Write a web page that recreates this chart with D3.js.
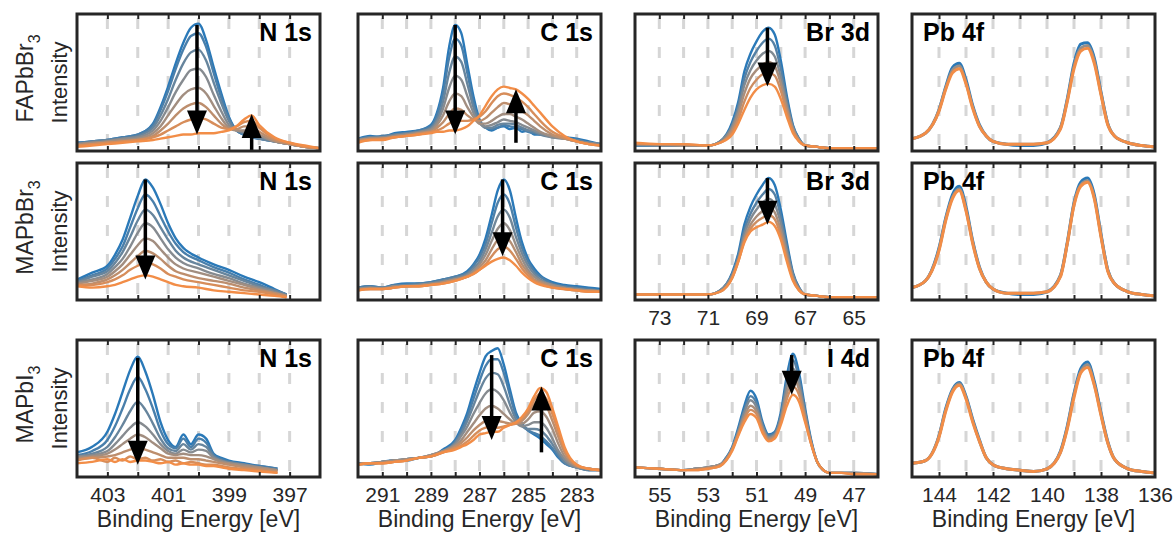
<!DOCTYPE html>
<html>
<head>
<meta charset="utf-8">
<script src="https://cdn.jsdelivr.net/npm/d3@7"></script>
<style>
body { margin: 0; background: #fff; }
svg text { font-family: "Liberation Sans", Arial, sans-serif; }
</style>
</head>
<body>
<div id="chart"></div>
<script>
// values; intensity in % of panel height,
// scans ordered first (blue) to last (orange)

// x ranges and labelled ticks, binding energy in eV
var domainN1s = [404, 396];
var domainC1s = [292, 282];
var domainBr3d = [74, 64];
var domainI4d = [56, 46];
var domainPb4f = [145, 136];

var ticksN1s = [403, 401, 399, 397];
var ticksC1s = [291, 289, 287, 285, 283];
var ticksBr3d = [73, 71, 69, 67, 65];
var ticksI4d = [55, 53, 51, 49, 47];
var ticksPb4f = [144, 142, 140, 138, 136];

var compounds = ["FAPbBr", "MAPbBr", "MAPbI"];
var coreLevels = [
    ["N 1s", "C 1s", "Br 3d", "Pb 4f"],
    ["N 1s", "C 1s", "Br 3d", "Pb 4f"],
    ["N 1s", "C 1s", "I 4d", "Pb 4f"]
];

// ---- FAPbBr3 ----
var energyN1sFA = [404, 403.5, 403, 402.5, 402, 401.5, 401.25, 401, 400.75, 400.5, 400.25, 400, 399.75, 399.5, 399.25, 399, 398.75, 398.5, 398.25, 398, 397.5, 397, 396.5, 396];
var scansN1sFA = [
    [6, 7, 8, 10, 12, 20, 32, 47, 64, 79, 90, 93, 81, 61, 42, 25, 15, 12, 10, 9, 7, 5, 3, 2],
    [6, 7, 8, 10, 12, 19, 30, 44, 60, 74, 84, 86, 76, 57, 39, 24, 15, 12, 10, 9, 7, 5, 3, 2],
    [5, 7, 8, 9, 11, 17, 26, 38, 52, 64, 72, 74, 66, 50, 35, 22, 15, 13, 11, 9, 7, 5, 3, 2],
    [5, 6, 7, 9, 10, 15, 22, 32, 43, 52, 59, 60, 54, 41, 29, 19, 15, 14, 13, 11, 7, 5, 3, 2],
    [5, 6, 7, 8, 9, 13, 18, 26, 34, 41, 45, 46, 42, 33, 24, 17, 15, 15, 14, 12, 7, 5, 3, 2],
    [4, 5, 6, 7, 8, 11, 15, 20, 26, 31, 34, 35, 32, 26, 20, 16, 16, 18, 18, 14, 8, 5, 3, 2],
    [4, 5, 6, 7, 8, 10, 12, 15, 18, 21, 23, 24, 23, 20, 17, 16, 18, 21, 22, 17, 9, 6, 3, 2],
    [3, 4, 5, 6, 7, 8, 9, 10, 11, 12, 12, 13, 13, 13, 14, 15, 18, 23, 26, 19, 10, 6, 4, 2]
];
var arrowsN1sFA = [[400.05, 92, 12], [398.25, 0, 27]];

var energyC1sFA = [292, 291.5, 291, 290.5, 290, 289.5, 289, 288.75, 288.5, 288.25, 288, 287.75, 287.5, 287.25, 287, 286.75, 286.5, 286.25, 286, 285.75, 285.5, 285.25, 285, 284.75, 284.5, 284, 283.5, 283, 282.5, 282];
var scansC1sFA = [
    [9, 11, 10, 13, 14, 15, 19, 28, 46, 76, 92, 86, 63, 40, 23, 17, 15, 17, 18, 16, 17, 14, 15, 12, 12, 11, 10, 9, 7, 5],
    [9, 10, 11, 12, 13, 15, 18, 26, 42, 68, 82, 77, 57, 36, 22, 17, 16, 17, 19, 18, 17, 16, 14, 13, 12, 11, 10, 8, 6, 5],
    [8, 10, 10, 12, 13, 14, 17, 23, 36, 57, 69, 65, 49, 32, 21, 17, 17, 19, 20, 20, 19, 17, 15, 14, 12, 10, 9, 8, 6, 5],
    [8, 9, 10, 11, 12, 14, 16, 21, 31, 46, 55, 52, 40, 28, 20, 18, 19, 21, 23, 22, 21, 19, 17, 15, 13, 10, 9, 7, 6, 5],
    [8, 9, 9, 11, 12, 13, 15, 19, 26, 36, 42, 40, 32, 25, 20, 20, 22, 25, 27, 27, 25, 23, 20, 17, 14, 11, 9, 7, 5, 4],
    [7, 9, 9, 10, 11, 13, 14, 17, 21, 27, 31, 30, 26, 23, 22, 24, 28, 32, 35, 34, 32, 29, 26, 22, 18, 12, 9, 7, 5, 4],
    [7, 8, 9, 10, 11, 12, 14, 15, 17, 20, 22, 22, 22, 23, 25, 29, 35, 40, 42, 41, 39, 36, 32, 27, 22, 14, 10, 7, 5, 4],
    [6, 8, 8, 10, 11, 12, 13, 14, 14, 15, 15, 16, 18, 22, 26, 33, 40, 45, 47, 46, 45, 42, 38, 33, 28, 18, 11, 7, 5, 4]
];
var arrowsC1sFA = [[288.0, 92, 12], [285.5, 6, 45]];

var energyBr3d = [74, 73, 72, 71, 70.5, 70, 69.75, 69.5, 69.25, 69, 68.75, 68.5, 68.25, 68, 67.75, 67.5, 67.25, 67, 66.5, 66, 65, 64];
var scansBr3dFA = [
    [4, 4, 4, 4, 7, 21, 36, 58, 71, 80, 87, 90, 85, 66, 40, 19, 9, 4, 3, 2, 2, 2],
    [4, 4, 4, 4, 7, 19, 33, 53, 65, 73, 79, 82, 77, 60, 37, 18, 9, 4, 3, 2, 2, 2],
    [5, 4, 4, 4, 7, 18, 30, 48, 59, 66, 71, 73, 69, 54, 34, 17, 8, 4, 3, 2, 2, 2],
    [5, 5, 4, 4, 6, 16, 27, 42, 53, 59, 63, 65, 62, 49, 31, 16, 8, 4, 3, 2, 2, 2],
    [5, 5, 5, 4, 6, 14, 23, 36, 46, 52, 56, 57, 55, 44, 28, 15, 7, 4, 3, 2, 2, 2],
    [6, 5, 5, 4, 6, 12, 20, 30, 39, 45, 48, 49, 47, 38, 25, 13, 7, 4, 3, 2, 2, 2]
];
var arrowsBr3dFA = [[68.55, 90, 47]];

var energyPb4f = [145, 144.5, 144, 143.75, 143.5, 143.25, 143, 142.75, 142.5, 142.25, 142, 141.5, 141, 140.5, 140, 139.5, 139.25, 139, 138.75, 138.5, 138.25, 138, 137.75, 137.5, 137, 136.5, 136];
var scansPb4fFA = [
    [9, 13, 30, 47, 61, 64, 52, 33, 19, 11, 7, 5, 4, 4, 6, 17, 38, 64, 78, 79, 68, 43, 20, 11, 6, 4, 3],
    [9, 13, 30, 46, 59, 62, 50, 32, 18, 11, 7, 5, 5, 5, 6, 17, 37, 62, 75, 77, 66, 42, 20, 11, 6, 4, 3],
    [9, 13, 29, 45, 57, 60, 49, 31, 18, 11, 7, 5, 5, 5, 6, 16, 36, 60, 73, 75, 64, 41, 19, 11, 6, 4, 3]
];

// ---- MAPbBr3 ----
var energyN1sMA = [404, 403.5, 403, 402.75, 402.5, 402.25, 402, 401.75, 401.5, 401.25, 401, 400.75, 400.5, 400, 399.5, 399, 398.5, 398, 397.5, 397.1];
var scansN1sMA = [
    [15, 20, 25, 33, 44, 60, 76, 88, 82, 70, 56, 45, 38, 31, 26, 22, 17, 13, 8, 4],
    [14, 18, 23, 30, 39, 53, 67, 77, 72, 61, 50, 41, 35, 29, 24, 20, 15, 11, 7, 4],
    [13, 17, 21, 27, 35, 46, 58, 66, 62, 53, 44, 36, 31, 26, 22, 18, 14, 10, 7, 4],
    [13, 15, 19, 24, 30, 39, 49, 56, 53, 45, 37, 31, 27, 23, 19, 16, 12, 9, 6, 3],
    [12, 14, 17, 21, 26, 33, 40, 45, 43, 37, 31, 26, 23, 20, 17, 14, 11, 8, 5, 3],
    [11, 12, 15, 18, 22, 27, 32, 36, 34, 30, 25, 21, 19, 16, 14, 12, 9, 7, 5, 3],
    [11, 11, 13, 15, 18, 22, 25, 27, 26, 23, 19, 17, 15, 13, 11, 9, 7, 6, 4, 2],
    [10, 9, 10, 11, 13, 15, 17, 18, 17, 15, 13, 11, 10, 9, 7, 6, 5, 4, 3, 2]
];
var arrowsN1sMA = [[401.75, 88, 15]];

var energyC1sMA = [292, 291.5, 291, 290.5, 290, 289.5, 289, 288.5, 288, 287.5, 287.25, 287, 286.75, 286.5, 286.25, 286, 285.75, 285.5, 285.25, 285, 284.75, 284.5, 284, 283.5, 283, 282.5, 282];
var scansC1sMA = [
    [9, 10, 9, 11, 12, 12, 13, 15, 17, 21, 26, 33, 45, 62, 80, 88, 80, 60, 42, 30, 23, 18, 13, 11, 10, 9, 8],
    [9, 10, 9, 11, 11, 12, 13, 15, 17, 20, 25, 31, 41, 56, 71, 77, 70, 53, 38, 28, 21, 17, 12, 10, 9, 8, 7],
    [8, 9, 9, 10, 11, 11, 12, 14, 16, 19, 23, 28, 37, 49, 61, 66, 60, 46, 34, 25, 19, 15, 11, 9, 8, 7, 7],
    [8, 9, 8, 10, 10, 11, 12, 13, 15, 18, 21, 26, 33, 43, 52, 56, 51, 40, 30, 22, 17, 14, 11, 9, 8, 7, 6],
    [8, 8, 8, 9, 10, 10, 11, 13, 15, 17, 20, 24, 29, 37, 44, 47, 43, 35, 26, 20, 15, 13, 10, 8, 7, 7, 6],
    [7, 8, 8, 9, 10, 10, 11, 12, 14, 17, 19, 22, 26, 32, 37, 39, 36, 30, 23, 18, 14, 12, 9, 8, 7, 6, 6],
    [7, 8, 8, 9, 10, 10, 11, 12, 14, 17, 19, 22, 25, 28, 30, 31, 29, 25, 20, 16, 13, 11, 9, 8, 7, 6, 6]
];
var arrowsC1sMA = [[286.05, 88, 32]];

var scansBr3dMA = [
    [4, 4, 4, 4, 7, 20, 34, 55, 68, 77, 84, 89, 84, 66, 42, 20, 9, 4, 3, 2, 2, 2],
    [4, 4, 4, 4, 7, 19, 32, 51, 63, 71, 77, 81, 77, 61, 39, 19, 9, 4, 3, 2, 2, 2],
    [4, 4, 4, 4, 7, 18, 30, 48, 59, 66, 71, 74, 70, 56, 36, 18, 8, 4, 3, 2, 2, 2],
    [4, 4, 4, 4, 6, 17, 29, 45, 55, 61, 65, 68, 64, 51, 33, 16, 8, 4, 3, 2, 2, 2],
    [4, 4, 4, 4, 6, 16, 28, 43, 52, 57, 60, 62, 59, 47, 30, 15, 7, 4, 3, 2, 2, 2],
    [4, 4, 4, 4, 6, 16, 28, 42, 50, 53, 55, 57, 54, 44, 28, 14, 7, 4, 3, 2, 2, 2]
];
var arrowsBr3dMA = [[68.55, 89, 55]];

var scansPb4fMA = [
    [9, 14, 38, 60, 77, 83, 68, 43, 24, 13, 8, 5, 4, 4, 6, 18, 42, 71, 86, 89, 77, 48, 22, 12, 6, 4, 3],
    [9, 14, 37, 59, 75, 81, 66, 42, 23, 13, 8, 5, 5, 5, 6, 18, 41, 70, 84, 87, 75, 47, 22, 12, 6, 4, 3],
    [9, 14, 36, 58, 74, 80, 65, 41, 23, 13, 8, 5, 5, 5, 6, 17, 41, 69, 83, 86, 74, 46, 21, 12, 6, 4, 3]
];

// ---- MAPbI3 ----
var energyN1sMAI = [404, 403.5, 403, 402.75, 402.5, 402.25, 402, 401.75, 401.5, 401.25, 401, 400.75, 400.5, 400.25, 400, 399.75, 399.5, 399.25, 399, 398.5, 398, 397.4];
var scansN1sMAI = [
    [18, 22, 33, 46, 62, 78, 88, 77, 60, 40, 27, 22, 31, 24, 31, 28, 17, 14, 12, 10, 8, 6],
    [16, 19, 27, 37, 50, 64, 73, 64, 50, 34, 24, 21, 28, 22, 28, 25, 16, 13, 11, 9, 8, 6],
    [15, 17, 22, 29, 38, 48, 55, 49, 39, 28, 21, 19, 24, 20, 24, 22, 15, 12, 11, 9, 7, 5],
    [15, 16, 19, 24, 30, 36, 40, 37, 31, 24, 19, 17, 20, 18, 20, 19, 14, 12, 10, 9, 7, 5],
    [14, 15, 17, 20, 24, 28, 31, 29, 25, 21, 17, 16, 17, 16, 16, 15, 13, 11, 10, 8, 7, 5],
    [13, 14, 15, 16, 18, 20, 21, 20, 18, 16, 14, 14, 14, 13, 13, 12, 11, 10, 9, 7, 6, 4],
    [12, 14, 11, 14, 12, 15, 13, 14, 12, 13, 11, 12, 10, 11, 10, 9, 9, 8, 7, 6, 5, 3],
    [10, 11, 13, 11, 13, 11, 12, 12, 11, 10, 11, 9, 10, 9, 9, 8, 8, 7, 6, 5, 4, 3]
];
var arrowsN1sMAI = [[402.0, 87, 9]];

var energyC1sMAI = [292, 291.5, 291, 290.5, 290, 289.5, 289, 288.5, 288, 287.75, 287.5, 287.25, 287, 286.75, 286.5, 286.25, 286, 285.75, 285.5, 285.25, 285, 284.75, 284.5, 284.25, 284, 283.75, 283.5, 283, 282.5, 282];
var scansC1sMAI = [
    [10, 9, 11, 12, 12, 14, 15, 20, 27, 36, 47, 62, 76, 88, 92, 94, 82, 64, 47, 39, 34, 31, 28, 24, 20, 14, 10, 7, 5, 5],
    [10, 10, 11, 12, 13, 14, 15, 19, 26, 34, 44, 57, 70, 81, 86, 86, 76, 60, 45, 38, 34, 32, 30, 26, 21, 15, 10, 7, 5, 5],
    [10, 10, 11, 12, 13, 14, 16, 19, 25, 32, 41, 52, 63, 72, 76, 75, 66, 53, 42, 37, 35, 35, 34, 30, 24, 17, 11, 7, 5, 5],
    [10, 10, 11, 12, 13, 14, 16, 19, 24, 30, 37, 46, 54, 61, 64, 62, 56, 47, 40, 37, 38, 40, 40, 36, 28, 19, 13, 7, 6, 5],
    [9, 10, 11, 12, 13, 14, 16, 19, 23, 27, 33, 39, 45, 50, 52, 50, 46, 42, 39, 39, 42, 47, 48, 44, 35, 24, 15, 8, 6, 5],
    [9, 10, 10, 11, 12, 14, 15, 18, 22, 25, 29, 34, 38, 41, 42, 41, 40, 39, 39, 41, 46, 53, 56, 52, 41, 29, 18, 8, 6, 5],
    [9, 10, 10, 11, 12, 14, 15, 18, 21, 23, 26, 30, 34, 36, 37, 36, 37, 38, 39, 43, 48, 56, 61, 57, 46, 33, 20, 9, 6, 5],
    [9, 10, 10, 11, 12, 14, 15, 18, 20, 22, 24, 27, 31, 32, 33, 33, 36, 38, 40, 44, 50, 59, 65, 62, 50, 36, 22, 9, 6, 5]
];
var arrowsC1sMAI = [[286.5, 89, 27], [284.45, 18, 66]];

var energyI4d = [56, 55, 54, 53.5, 53, 52.5, 52.25, 52, 51.75, 51.5, 51.25, 51, 50.75, 50.5, 50.25, 50, 49.75, 49.5, 49.25, 49, 48.75, 48.5, 48.25, 48, 47.5, 47, 46];
var scansI4d = [
    [7, 6, 5, 6, 7, 9, 14, 22, 36, 52, 63, 57, 40, 31, 33, 47, 74, 90, 76, 50, 27, 11, 5, 3, 3, 3, 2],
    [7, 6, 5, 6, 7, 9, 14, 21, 34, 49, 59, 54, 38, 30, 32, 45, 70, 85, 72, 48, 26, 11, 5, 3, 3, 3, 2],
    [7, 6, 5, 6, 7, 9, 13, 21, 33, 47, 56, 51, 37, 29, 31, 43, 66, 79, 68, 46, 25, 11, 5, 3, 3, 3, 2],
    [7, 6, 5, 6, 7, 9, 13, 20, 32, 44, 52, 48, 35, 28, 30, 41, 61, 73, 64, 44, 25, 11, 5, 3, 3, 3, 2],
    [7, 6, 5, 5, 6, 8, 12, 20, 31, 42, 49, 46, 34, 27, 29, 40, 57, 66, 60, 42, 24, 11, 5, 3, 3, 2, 2],
    [7, 6, 5, 5, 6, 8, 12, 19, 30, 40, 46, 43, 32, 26, 28, 38, 52, 60, 55, 40, 24, 11, 5, 3, 3, 2, 2]
];
var arrowsI4d = [[49.55, 89, 60]];

var scansPb4fMAI = [
    [10, 12, 30, 50, 64, 69, 59, 42, 27, 14, 9, 6, 5, 4, 6, 19, 37, 61, 79, 84, 70, 47, 26, 13, 6, 4, 3],
    [10, 12, 30, 49, 63, 68, 58, 41, 26, 14, 9, 6, 5, 4, 6, 18, 36, 60, 77, 82, 68, 46, 25, 13, 6, 4, 3],
    [10, 12, 29, 48, 62, 67, 57, 40, 26, 14, 9, 6, 5, 4, 6, 18, 35, 58, 76, 80, 67, 45, 25, 13, 6, 4, 3]
];

var panels = [
    {row: 0, col: 0, domain: domainN1s, ticks: ticksN1s, energy: energyN1sFA, scans: scansN1sFA, arrows: arrowsN1sFA},
    {row: 0, col: 1, domain: domainC1s, ticks: ticksC1s, energy: energyC1sFA, scans: scansC1sFA, arrows: arrowsC1sFA},
    {row: 0, col: 2, domain: domainBr3d, ticks: ticksBr3d, energy: energyBr3d, scans: scansBr3dFA, arrows: arrowsBr3dFA},
    {row: 0, col: 3, domain: domainPb4f, ticks: ticksPb4f, energy: energyPb4f, scans: scansPb4fFA, arrows: []},
    {row: 1, col: 0, domain: domainN1s, ticks: ticksN1s, energy: energyN1sMA, scans: scansN1sMA, arrows: arrowsN1sMA},
    {row: 1, col: 1, domain: domainC1s, ticks: ticksC1s, energy: energyC1sMA, scans: scansC1sMA, arrows: arrowsC1sMA},
    {row: 1, col: 2, domain: domainBr3d, ticks: ticksBr3d, energy: energyBr3d, scans: scansBr3dMA, arrows: arrowsBr3dMA, labelled: true},
    {row: 1, col: 3, domain: domainPb4f, ticks: ticksPb4f, energy: energyPb4f, scans: scansPb4fMA, arrows: []},
    {row: 2, col: 0, domain: domainN1s, ticks: ticksN1s, energy: energyN1sMAI, scans: scansN1sMAI, arrows: arrowsN1sMAI, labelled: true},
    {row: 2, col: 1, domain: domainC1s, ticks: ticksC1s, energy: energyC1sMAI, scans: scansC1sMAI, arrows: arrowsC1sMAI, labelled: true},
    {row: 2, col: 2, domain: domainI4d, ticks: ticksI4d, energy: energyI4d, scans: scansI4d, arrows: arrowsI4d, labelled: true},
    {row: 2, col: 3, domain: domainPb4f, ticks: ticksPb4f, energy: energyPb4f, scans: scansPb4fMAI, arrows: [], labelled: true}
];

// layout
var colX = [77, 358, 635, 912],
    rowY = [14, 163, 340],
    pw = 243,
    ph = 137;

var ink = "#262626";
var scanColor = d3.piecewise(d3.interpolateRgb, ["#2a79b8", "#958e89", "#f28d47"]);

var svg = d3.select("#chart").append("svg")
    .attr("width", 1174)
    .attr("height", 534);

var y = d3.scaleLinear().domain([0, 100]).range([ph, 0]);

panels.forEach(function(p, pi) {
    var x = d3.scaleLinear().domain(p.domain).range([0, pw]);
    var g = svg.append("g")
        .attr("transform", "translate(" + colX[p.col] + "," + rowY[p.row] + ")");

    // whole-eV positions strictly inside the frame
    var lo = d3.min(p.domain), hi = d3.max(p.domain);
    var minor = d3.range(Math.floor(lo) + 1, Math.ceil(hi));

    // dashed grid
    g.selectAll(".grid")
        .data(minor)
        .enter().append("line")
        .attr("x1", function(d) { return x(d); })
        .attr("x2", function(d) { return x(d); })
        .attr("y1", 4)
        .attr("y2", ph)
        .attr("stroke", "#d6d6d6")
        .attr("stroke-width", 3)
        .attr("stroke-dasharray", "11,18");

    g.append("clipPath").attr("id", "clip" + pi)
        .append("rect").attr("width", pw).attr("height", ph);

    var line = d3.line()
        .x(function(d, i) { return x(p.energy[i]); })
        .y(function(d) { return y(d); })
        .curve(d3.curveMonotoneX);

    var n = p.scans.length;
    g.append("g").attr("clip-path", "url(#clip" + pi + ")")
        .selectAll("path")
        .data(p.scans)
        .enter().append("path")
        .attr("d", line)
        .attr("fill", "none")
        .attr("stroke", function(d, i) { return scanColor(i / (n - 1)); })
        .attr("stroke-width", p.col === 3 ? 3 : 2.4)
        .attr("stroke-linejoin", "round");

    // inward ticks top and bottom
    g.append("g")
        .attr("transform", "translate(0," + ph + ")")
        .call(d3.axisBottom(x).tickValues(minor).tickSize(-5).tickFormat(""))
        .call(function(a) { a.select(".domain").remove(); a.selectAll("line").attr("stroke", ink).attr("stroke-width", 2); });
    g.append("g")
        .call(d3.axisTop(x).tickValues(minor).tickSize(-5).tickFormat(""))
        .call(function(a) { a.select(".domain").remove(); a.selectAll("line").attr("stroke", ink).attr("stroke-width", 2); });

    // arrows
    p.arrows.forEach(function(a) {
        var ax = x(a[0]), y0 = y(a[1]), y1 = y(a[2]);
        var dir = y1 > y0 ? 1 : -1, headL = 24, headW = 10;
        g.append("line")
            .attr("x1", ax).attr("x2", ax)
            .attr("y1", y0).attr("y2", y1 - dir * headL * 0.6)
            .attr("stroke", "#000").attr("stroke-width", 3.5);
        g.append("path")
            .attr("d", "M" + ax + "," + y1 +
                "L" + (ax - headW) + "," + (y1 - dir * headL) +
                "L" + (ax + headW) + "," + (y1 - dir * headL) + "Z")
            .attr("fill", "#000");
    });

    // frame
    g.append("rect")
        .attr("width", pw).attr("height", ph)
        .attr("fill", "none")
        .attr("stroke", ink)
        .attr("stroke-width", 3);

    // core level label
    var name = coreLevels[p.row][p.col];
    var left = name.indexOf("Pb") === 0;
    g.append("text")
        .attr("x", left ? 11 : pw - 8)
        .attr("y", 27)
        .attr("text-anchor", left ? "start" : "end")
        .style("font-size", "25px")
        .style("font-weight", "bold")
        .attr("fill", "#000")
        .text(name);

    if (p.labelled) {
        g.append("g")
            .attr("transform", "translate(0," + ph + ")")
            .call(d3.axisBottom(x).tickValues(p.ticks).tickSize(0).tickPadding(10))
            .call(function(a) {
                a.select(".domain").remove();
                a.selectAll("text")
                    .style("font-size", "21px")
                    .style("font-family", "Liberation Sans, Arial, sans-serif")
                    .attr("fill", ink);
            });
    }
    if (p.row === 2) {
        g.append("text")
            .attr("x", pw / 2)
            .attr("y", ph + 50)
            .attr("text-anchor", "middle")
            .style("font-size", "23px")
            .attr("fill", ink)
            .text("Binding Energy [eV]");
    }
});

// row labels
compounds.forEach(function(c, r) {
    var cy = rowY[r] + ph / 2;
    svg.append("text")
        .attr("transform", "translate(67," + cy + ") rotate(-90)")
        .attr("text-anchor", "middle")
        .style("font-size", "22px")
        .attr("fill", ink)
        .text("Intensity");
    var t = svg.append("text")
        .attr("transform", "translate(33," + (cy - 4) + ") rotate(-90)")
        .attr("text-anchor", "middle")
        .style("font-size", "23px")
        .attr("fill", ink);
    t.append("tspan").text(c);
    t.append("tspan").attr("dy", 7).style("font-size", "16px").text("3");
});
</script>
</body>
</html>
